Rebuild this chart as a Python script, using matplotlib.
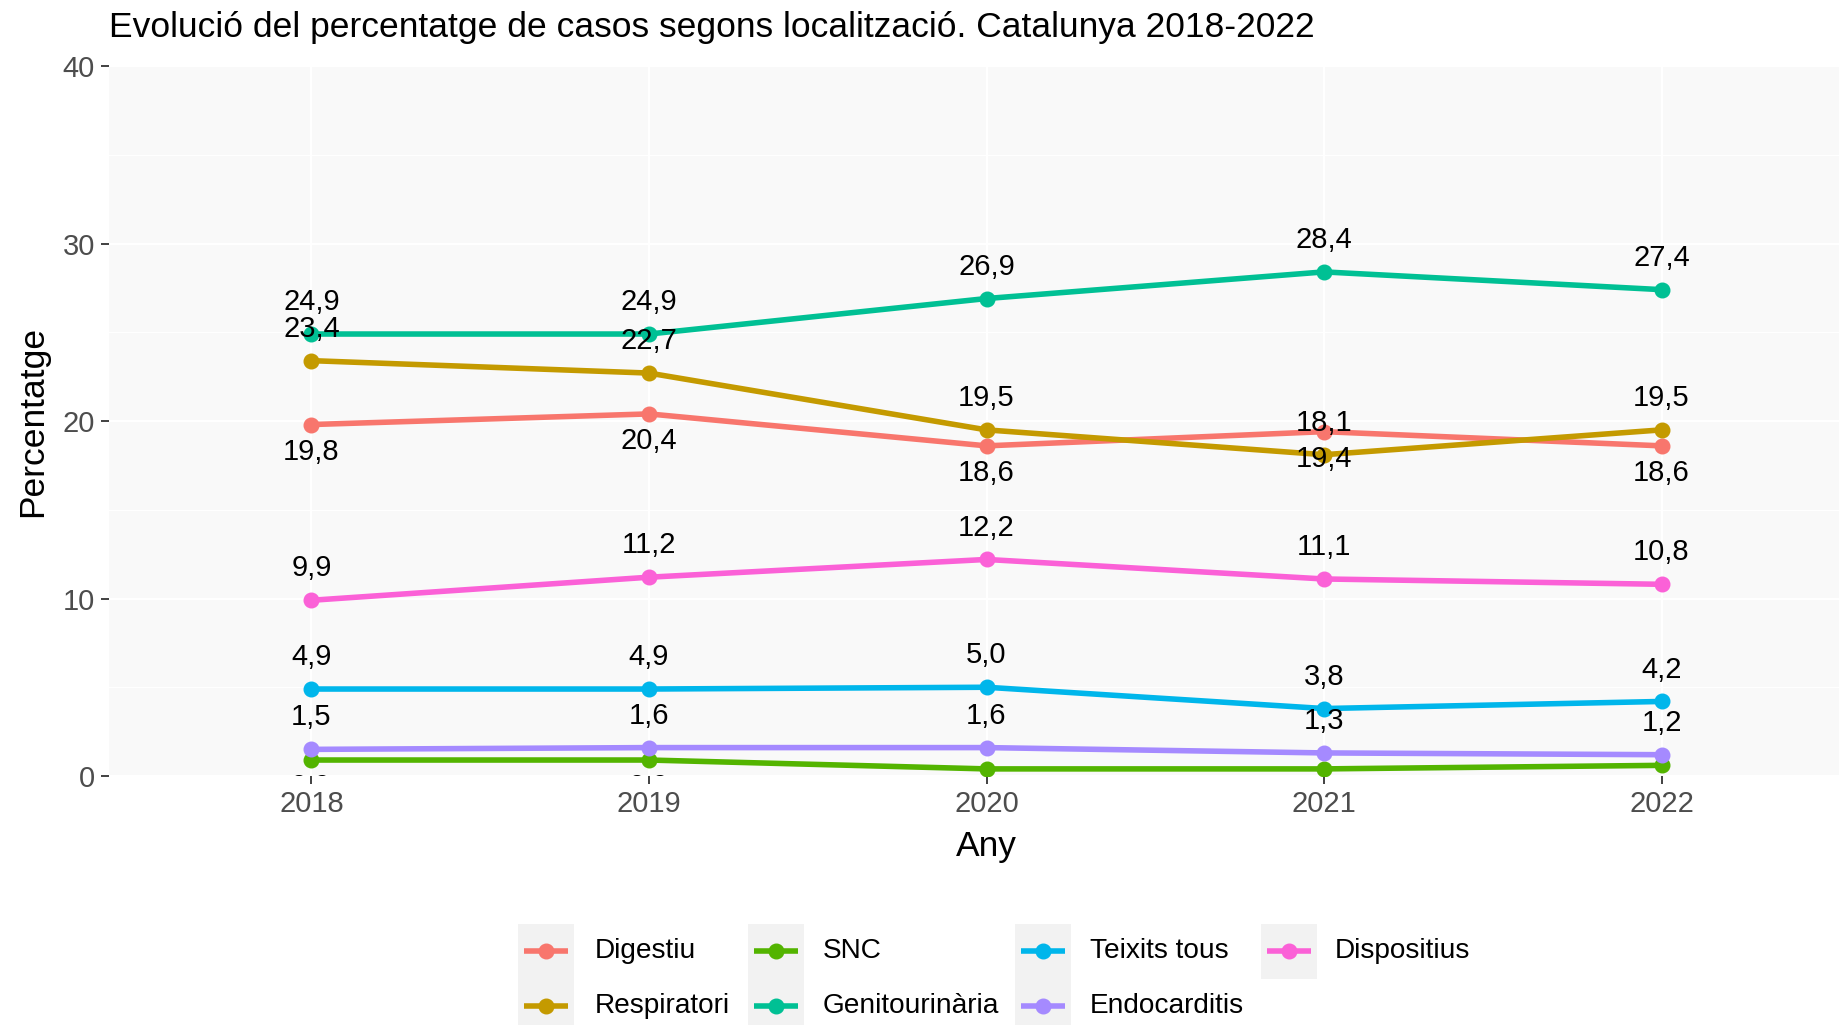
import matplotlib
matplotlib.use("Agg")
import matplotlib.pyplot as plt
from matplotlib.lines import Line2D
from matplotlib.patches import Rectangle

plt.rcParams['font.family'] = ['Liberation Sans', 'DejaVu Sans']

years = ["2018", "2019", "2020", "2021", "2022"]
series_names = ["Digestiu", "Respiratori", "SNC", "Genitourinària",
                "Teixits tous", "Endocarditis", "Dispositius"]
digestiu = [19.8, 20.4, 18.6, 19.4, 18.6]
respiratori = [23.4, 22.7, 19.5, 18.1, 19.5]
snc = [0.9, 0.9, 0.4, 0.4, 0.6]
genitourinaria = [24.9, 24.9, 26.9, 28.4, 27.4]
teixits_tous = [4.9, 4.9, 5.0, 3.8, 4.2]
endocarditis = [1.5, 1.6, 1.6, 1.3, 1.2]
dispositius = [9.9, 11.2, 12.2, 11.1, 10.8]
series_values = [digestiu, respiratori, snc, genitourinaria,
                 teixits_tous, endocarditis, dispositius]
colors = ["#F8766D", "#C49A00", "#53B400", "#00C094",
          "#00B6EB", "#A58AFF", "#FB61D7"]
label_below = [True, False, True, False, False, False, False]
yticks = [0, 10, 20, 30, 40]

W, H = 1840, 1025
fig = plt.figure(figsize=(W / 100, H / 100), dpi=100)
fig.patch.set_facecolor("white")

# panel geometry in pixels
pl, pt_, pb = 109, 66, 776
xmin, xmax = -0.6, 4.6
unit = 337.5
pw = (xmax - xmin) * unit
ax = fig.add_axes([pl / W, 1 - pb / H, pw / W, (pb - pt_) / H])
ax.set_facecolor("#F9F9F9")
for s in ax.spines.values():
    s.set_visible(False)

xs = list(range(len(years)))
ax.set_xlim(xmin, xmax)
ax.set_ylim(0, 40)
ax.set_xticks(xs)
ax.set_xticklabels(years)
ax.set_yticks(yticks)
ax.set_yticks([5, 15, 25, 35], minor=True)
ax.set_xticks([], minor=True)
ax.grid(which="major", color="white", linewidth=1.5, zorder=0)
ax.grid(which="minor", axis="y", color="white", linewidth=0.8, zorder=0)
ax.set_axisbelow(True)
ax.tick_params(axis="both", which="major", length=6, width=1.3, color="#333333",
               labelsize=21, labelcolor="#4D4D4D", pad=4)
ax.tick_params(axis="y", which="minor", length=0)

for name, vals, col in zip(series_names, series_values, colors):
    ax.plot(xs, vals, color=col, linewidth=4, marker="o", markersize=10.5,
            solid_capstyle="butt", zorder=3)

for vals, below in zip(series_values, label_below):
    for x, v in zip(xs, vals):
        txt = f"{v:.1f}".replace(".", ",")
        off = -19.5 if below else 23
        t = ax.annotate(txt, (x, v), xytext=(0, off), textcoords="offset points",
                        ha="center", va="center", fontsize=21, color="black",
                        zorder=5, annotation_clip=False)
        t.set_clip_on(True)
        t.set_clip_path(ax.patch)

ax.set_xlabel("Any", fontsize=25.5, labelpad=9)
ax.set_ylabel("Percentatge", fontsize=25.5, labelpad=10)

fig.text(pl / W, 1 - 28 / H, "Evolució del percentatge de casos segons localització. Catalunya 2018-2022",
         fontsize=25.5, ha="left", va="center")

# legend (ggplot style, 2 rows filled by column)
box_left = [518, 748, 1015, 1261]
text_left = [595, 823, 1090, 1335]
row_centers = [951, 1006]
box_w, box_h = 56, 55
for i, (name, col) in enumerate(zip(series_names, colors)):
    c, r = i // 2, i % 2
    bx, yc = box_left[c], row_centers[r]
    fig.patches.append(Rectangle((bx / W, 1 - (yc + box_h / 2) / H), box_w / W, box_h / H,
                                 transform=fig.transFigure, facecolor="#F2F2F2",
                                 edgecolor="none"))
    fig.lines.append(Line2D([(bx + 6) / W, (bx + box_w - 6) / W], [1 - yc / H, 1 - yc / H],
                            transform=fig.transFigure, color=col, linewidth=4,
                            solid_capstyle="butt"))
    fig.lines.append(Line2D([(bx + box_w / 2) / W], [1 - yc / H], transform=fig.transFigure,
                            color=col, marker="o", markersize=10.5, linestyle="none"))
    fig.text(text_left[c] / W, 1 - yc / H, name, fontsize=20.2, ha="left", va="center")

fig.savefig("out.png", dpi=100)
